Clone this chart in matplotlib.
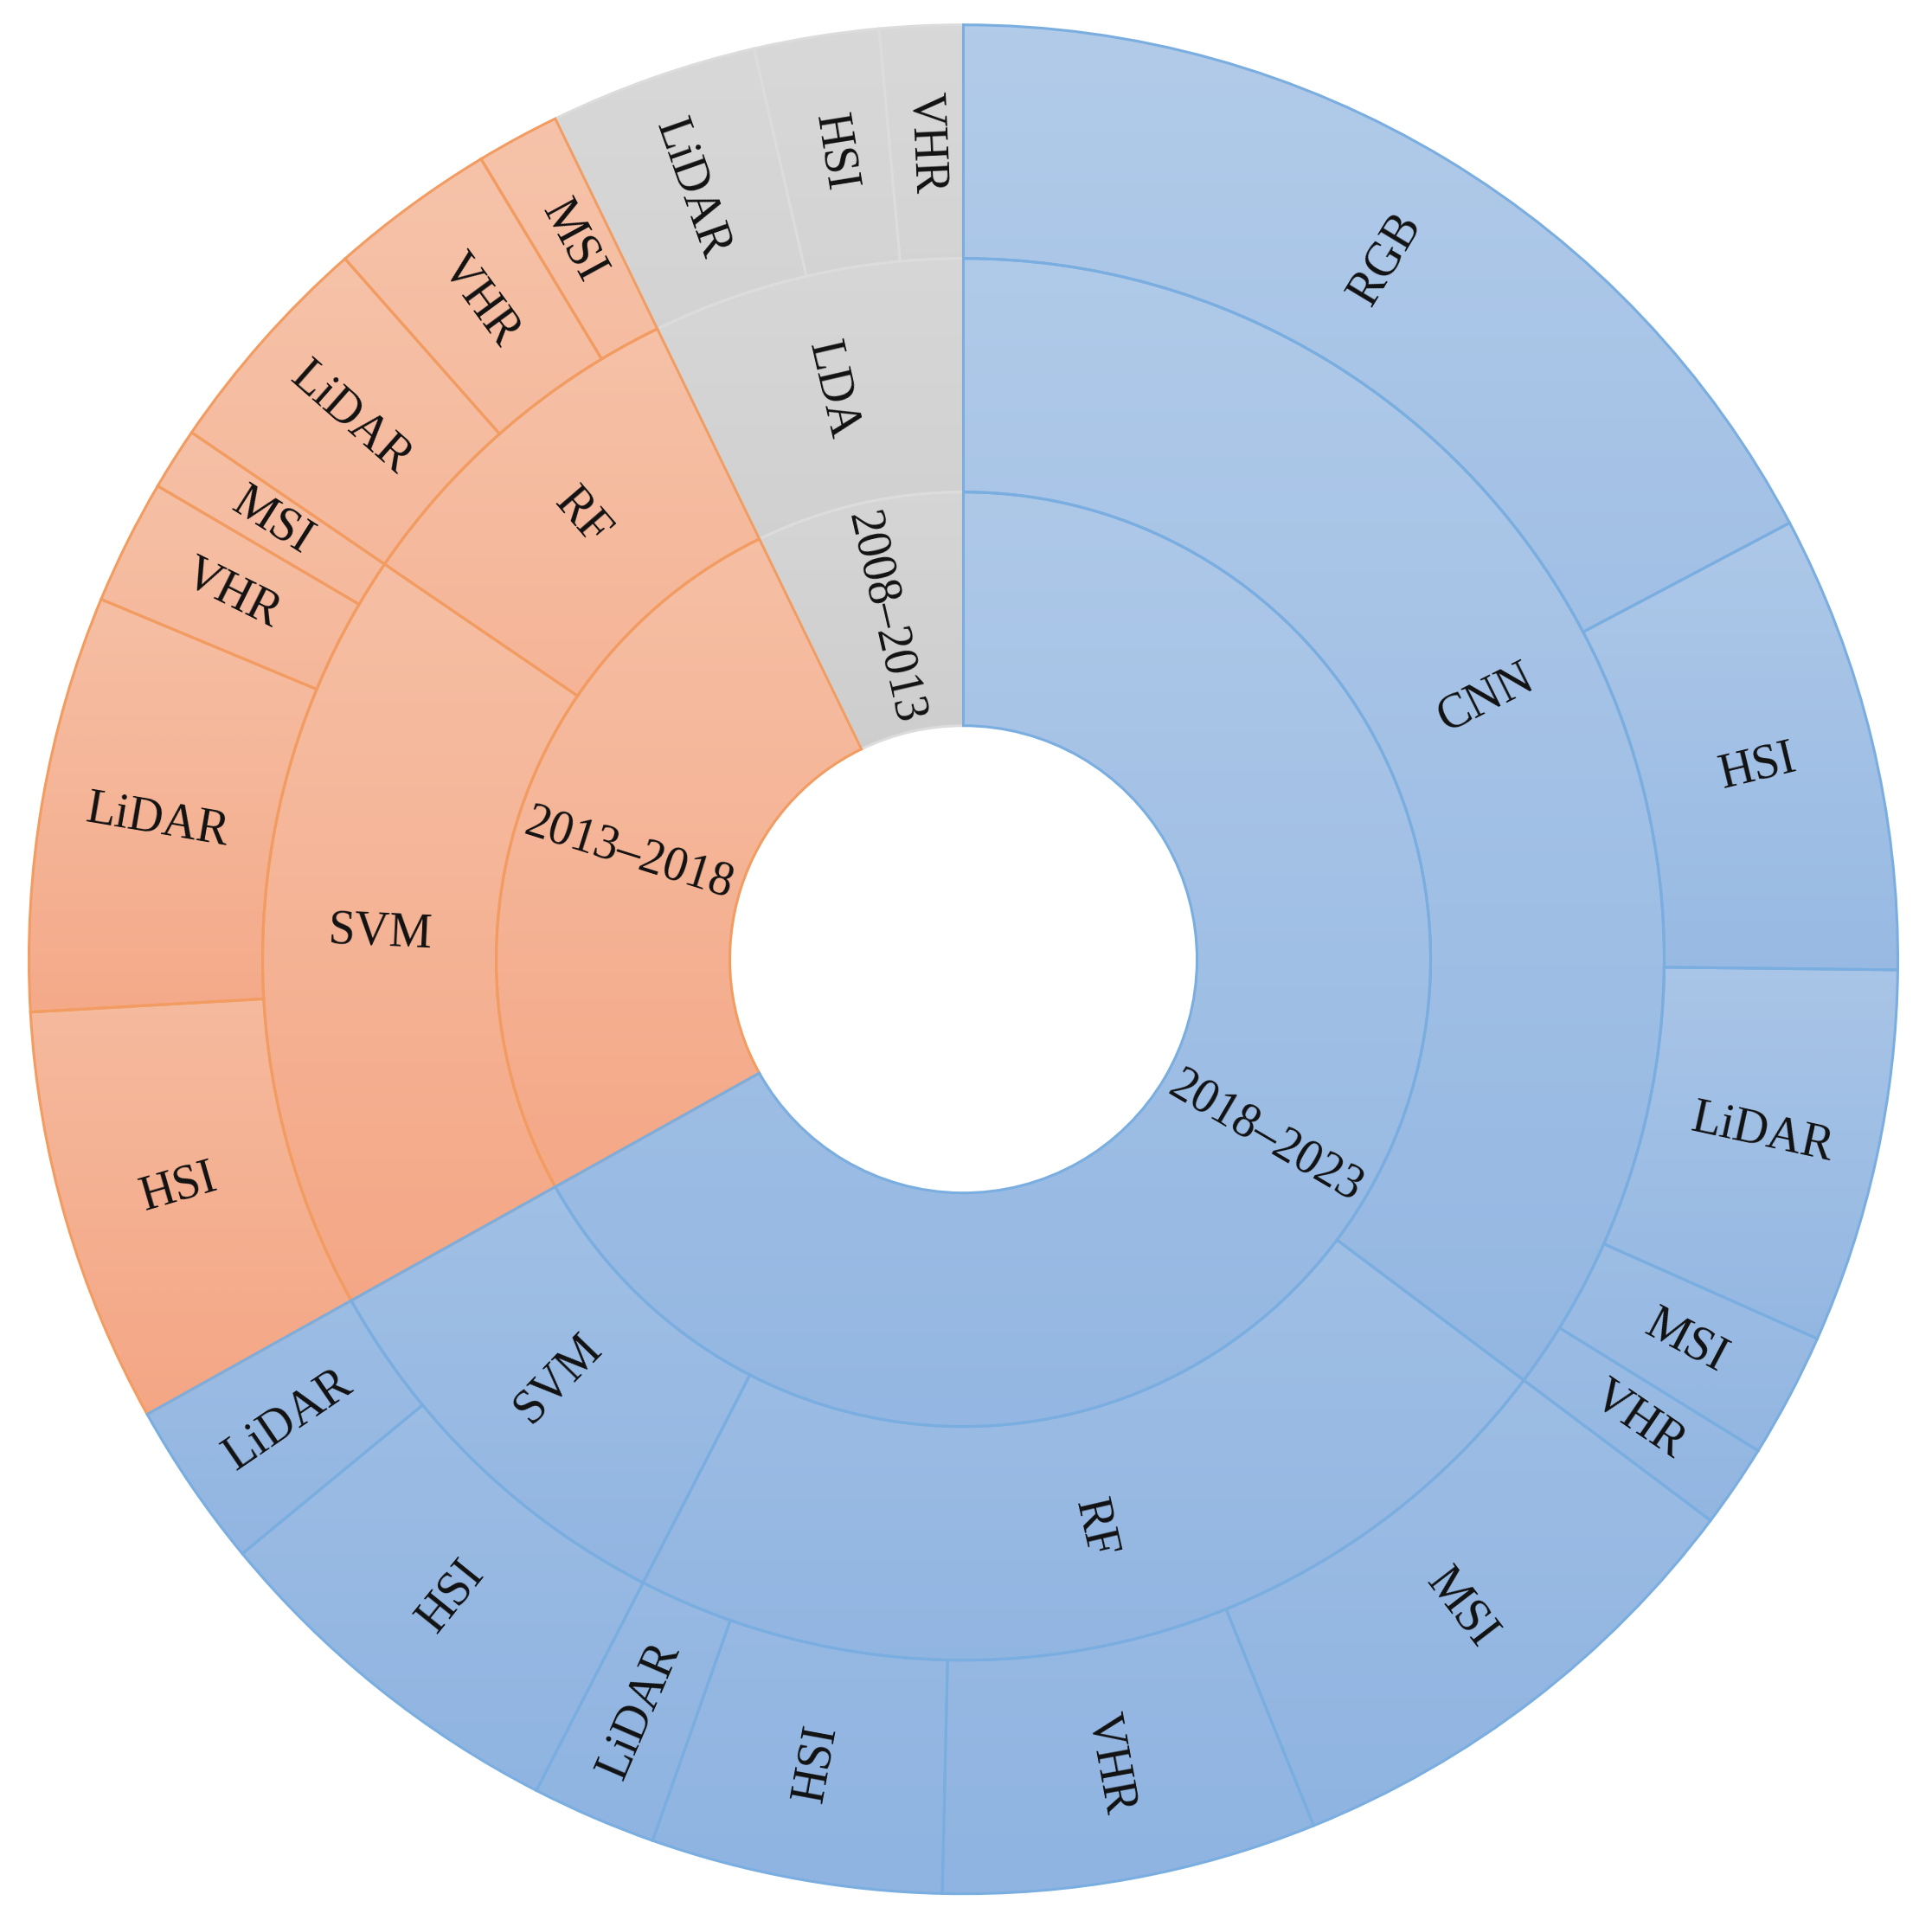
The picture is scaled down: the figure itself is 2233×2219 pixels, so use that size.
import matplotlib
matplotlib.use("Agg")
import matplotlib.pyplot as plt
import numpy as np
import pandas as pd
from matplotlib.patches import Wedge
from matplotlib.colors import LinearSegmentedColormap

# leaf level data, in clockwise order starting from 12 o'clock
period = ["2018–2023"] * 11 + ["2013–2018"] * 7 + ["2008–2013"] * 3
method = (["CNN"] * 5 + ["RF"] * 4 + ["SVM"] * 2
          + ["SVM"] * 4 + ["RF"] * 3
          + ["LDA"] * 3)
sensor = ["RGB", "HSI", "LiDAR", "MSI", "VHR",
          "MSI", "VHR", "HSI", "LiDAR",
          "HSI", "LiDAR",
          "HSI", "LiDAR", "VHR", "MSI",
          "LiDAR", "VHR", "MSI",
          "LiDAR", "HSI", "VHR"]
count = [48, 22, 18, 6, 4,
         24, 18, 14, 6,
         18, 8,
         20, 20, 6, 3,
         11, 8, 4,
         10, 6, 4]

# gradient top, gradient bottom, edge colour for each period
styles = {
    "2018–2023": ("#b2cbe9", "#8fb4e1", "#7aaee0"),
    "2013–2018": ("#f6c4ab", "#f4a27f", "#f29c62"),
    "2008–2013": ("#d8d8d8", "#c2c2c2", "#dcdcdc"),
}
edge_z = {"2008–2013": 2, "2013–2018": 3, "2018–2023": 4}

W, H = 2233, 2219
CX, CY = 1113.5, H - 1108.7
R0, RW = 270, 270
R_MAX = R0 + 3 * RW

df = pd.DataFrame({"period": period, "method": method,
                   "sensor": sensor, "count": count})
deg_per = 360.0 / df["count"].sum()

rings = [
    df.groupby("period", sort=False)["count"].sum().reset_index().assign(label=lambda d: d["period"]),
    df.groupby(["period", "method"], sort=False)["count"].sum().reset_index().assign(label=lambda d: d["method"]),
    df.assign(label=df["sensor"]),
]

fig = plt.figure(figsize=(W / 100, H / 100), dpi=100)
ax = fig.add_axes([0, 0, 1, 1])

for level, ring in enumerate(rings):
    r_in = R0 + level * RW
    r_out = r_in + RW
    start = 0.0
    for _, row in ring.iterrows():
        span = row["count"] * deg_per
        top, bottom, edge = styles[row["period"]]
        th1, th2 = 90 - (start + span), 90 - start
        w = Wedge((CX, CY), r_out, th1, th2, width=RW, facecolor="none",
                  edgecolor=edge, lw=2.2, zorder=edge_z[row["period"]])
        ax.add_patch(w)
        verts = w.get_path().vertices
        y0, y1 = verts[:, 1].min(), verts[:, 1].max()
        # mix of a gradient over the wedge and one over the whole disc
        ys = np.linspace(y1, y0, 256)
        local = np.linspace(0, 1, 256)
        glob = (CY + R_MAX - ys) / (2 * R_MAX)
        grad = (0.5 * local + 0.5 * glob).reshape(-1, 1)
        cmap = LinearSegmentedColormap.from_list("g", [top, bottom])
        im = ax.imshow(grad, cmap=cmap, vmin=0, vmax=1, aspect="auto",
                       origin="upper",
                       extent=[verts[:, 0].min(), verts[:, 0].max(), y0, y1],
                       zorder=1, interpolation="bilinear")
        im.set_clip_path(w)

        mid = start + span / 2
        t = 90 - mid
        rot = (t + 180) % 360 - 180
        if rot > 90:
            rot -= 180
        elif rot < -90:
            rot += 180
        rm = (r_in + r_out) / 2
        ax.text(CX + rm * np.cos(np.radians(t)), CY + rm * np.sin(np.radians(t)),
                row["label"], rotation=rot, rotation_mode="anchor",
                ha="center", va="center", fontsize=40,
                family=["Liberation Serif", "DejaVu Sans"], color="#111111",
                zorder=6)
        start += span

ax.set_xlim(0, W)
ax.set_ylim(0, H)
ax.set_aspect("auto")
ax.axis("off")
fig.savefig("out.png", dpi=100, facecolor="white")
